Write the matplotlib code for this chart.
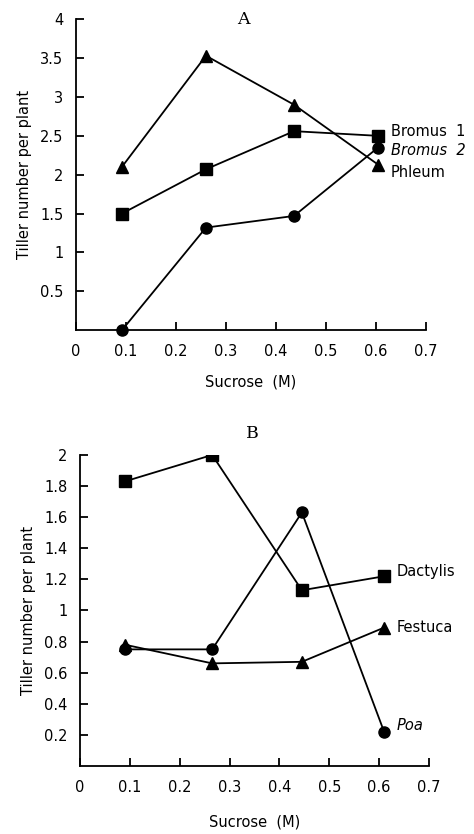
"""
plot.py
-------
Tiller number per plant vs sucrose concentration, two stacked panels.
"""

import matplotlib
matplotlib.use("Agg")
import matplotlib.pyplot as plt

# ── Data ─────────────────────────────────────────────────────────
X_A = [0.092, 0.26, 0.436, 0.604]
BROMUS1 = [1.5, 2.07, 2.56, 2.5]
BROMUS2 = [0.0, 1.32, 1.47, 2.35]
PHLEUM = [2.1, 3.53, 2.9, 2.13]

X_B = [0.09, 0.265, 0.445, 0.61]
DACTYLIS = [1.83, 2.0, 1.13, 1.22]
FESTUCA = [0.78, 0.66, 0.67, 0.89]
POA = [0.75, 0.75, 1.63, 0.22]

X_TICKS = [0, 0.1, 0.2, 0.3, 0.4, 0.5, 0.6, 0.7]
X_TICKLABELS = ["0", "0.1", "0.2", "0.3", "0.4", "0.5", "0.6", "0.7"]
Y_TICKS_A = [0.5, 1, 1.5, 2, 2.5, 3, 3.5, 4]
Y_TICKLABELS_A = ["0.5", "1", "1.5", "2", "2.5", "3", "3.5", "4"]
Y_TICKS_B = [0.2, 0.4, 0.6, 0.8, 1, 1.2, 1.4, 1.6, 1.8, 2]
Y_TICKLABELS_B = ["0.2", "0.4", "0.6", "0.8", "1", "1.2", "1.4", "1.6", "1.8", "2"]

FS = 10.5
LINE_KW = dict(color="black", lw=1.3, markersize=8)


def style_axes(ax, yticks, yticklabels, ylim, xlabelpad):
    ax.set_xlim(0, 0.7)
    ax.set_ylim(*ylim)
    ax.spines["top"].set_visible(False)
    ax.spines["right"].set_visible(False)
    for s in ("left", "bottom"):
        ax.spines[s].set_linewidth(1.3)
    ax.set_xticks(X_TICKS)
    ax.set_xticklabels(X_TICKLABELS, fontsize=FS)
    ax.set_yticks(yticks)
    ax.set_yticklabels(yticklabels, fontsize=FS)
    ax.tick_params(direction="in", length=6, width=1.3)
    ax.tick_params(axis="x", pad=10)
    ax.tick_params(axis="y", pad=9)
    ax.set_xlabel("Sucrose  (M)", fontsize=FS, labelpad=xlabelpad)
    ax.set_ylabel("Tiller number per plant", fontsize=FS, labelpad=6)


fig = plt.figure(figsize=(4.74, 8.34), dpi=100)

# ── Panel A ──────────────────────────────────────────────────────
axA = fig.add_axes([0.160, 0.604, 0.739, 0.373])
axA.plot(X_A, PHLEUM, marker="^", **LINE_KW)
axA.plot(X_A, BROMUS1, marker="s", **LINE_KW)
axA.plot(X_A, BROMUS2, marker="o", clip_on=False, **LINE_KW)
style_axes(axA, Y_TICKS_A, Y_TICKLABELS_A, (0, 4), 11)
axA.text(0.63, 2.56, "Bromus  1", fontsize=FS, va="center")
axA.text(0.63, 2.31, "Bromus  2", fontsize=FS, va="center", style="italic")
axA.text(0.63, 2.03, "Phleum", fontsize=FS, va="center")
axA.text(0.335, 4.0, "A", fontsize=12.5, family="serif", ha="center", va="center")

# ── Panel B ──────────────────────────────────────────────────────
axB = fig.add_axes([0.169, 0.0815, 0.736, 0.373])
axB.plot(X_B, DACTYLIS, marker="s", **LINE_KW)
axB.plot(X_B, POA, marker="o", **LINE_KW)
axB.plot(X_B, FESTUCA, marker="^", **LINE_KW)
style_axes(axB, Y_TICKS_B, Y_TICKLABELS_B, (0, 2), 14)
axB.text(0.635, 1.25, "Dactylis", fontsize=FS, va="center")
axB.text(0.635, 0.89, "Festuca", fontsize=FS, va="center")
axB.text(0.635, 0.26, "Poa", fontsize=FS, va="center", style="italic")
axB.text(0.345, 2.14, "B", fontsize=12.5, family="serif", ha="center", va="center")

fig.savefig("out.png", dpi=100)
